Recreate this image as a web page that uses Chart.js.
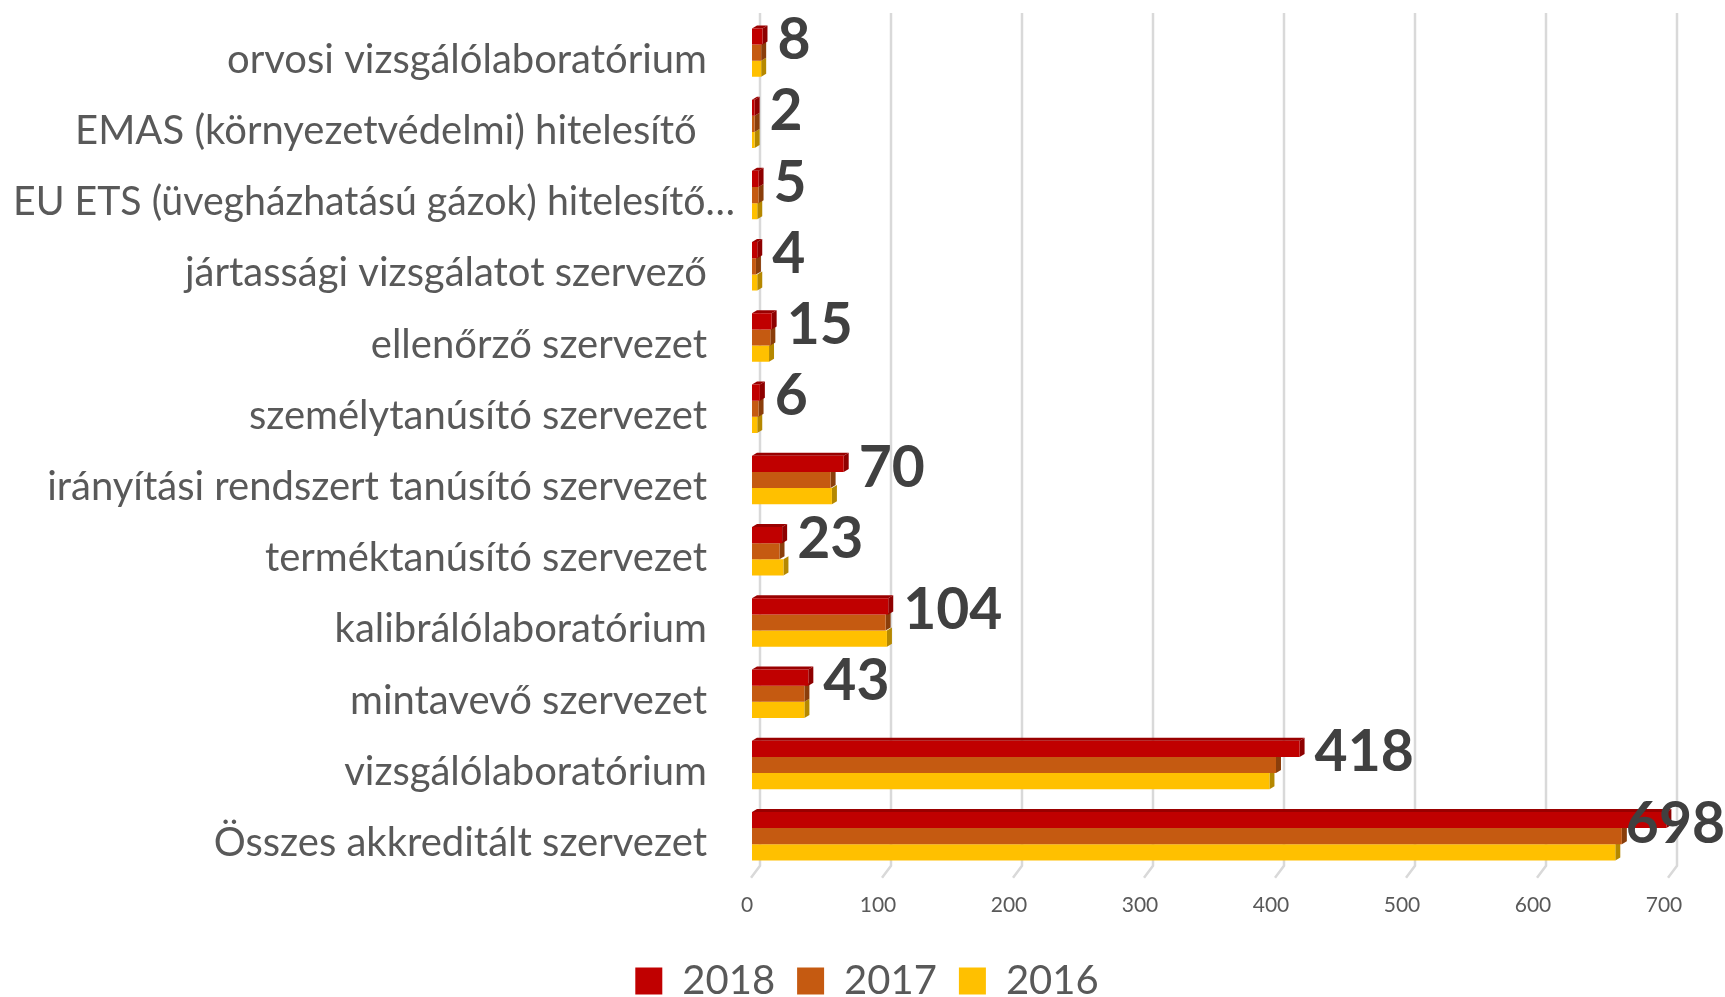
<!DOCTYPE html>
<html>
<head>
<meta charset="utf-8">
<script src="https://cdn.jsdelivr.net/npm/chart.js@4"></script>
<style>
  html, body { margin: 0; padding: 0; background: #fff; overflow: hidden; }
  canvas { display: block; }
</style>
</head>
<body>
<canvas id="chart" width="1725" height="997"></canvas>
<script>
// adatok
var categories = [
    'orvosi vizsgálólaboratórium',
    'EMAS (környezetvédelmi) hitelesítő ',
    'EU ETS (üvegházhatású gázok) hitelesítő…',
    'jártassági vizsgálatot szervező',
    'ellenőrző szervezet',
    'személytanúsító szervezet',
    'irányítási rendszert tanúsító szervezet',
    'terméktanúsító szervezet',
    'kalibrálólaboratórium',
    'mintavevő szervezet',
    'vizsgálólaboratórium',
    'Összes akkreditált szervezet'
];
var years = ['2018', '2017', '2016'];
var values2018 = [8, 2, 5, 4, 15, 6, 70, 23, 104, 43, 418, 698];
var values2017 = [7, 2, 5, 3, 14, 5, 60, 21, 102, 40, 400, 664];
var values2016 = [7, 2, 4, 4, 13, 4, 61, 24, 103, 40, 395, 659];
var xTicks = [0, 100, 200, 300, 400, 500, 600, 700];

var colors = ['#C00000', '#C55A11', '#FFC000'];
var sideColors = ['#8E0000', '#8A3E0B', '#B58800'];
var topColor = '#990000';
var DEPTH_X = 5;
var DEPTH_Y = 3;

Chart.defaults.font.family = 'Lato';

// 3D hatás: oldallap + tetőlap, rácsvonalak ferde véggel
var bar3d = {
    id: 'bar3d',
    beforeDatasetsDraw: function (chart) {
        var ctx = chart.ctx;
        var area = chart.chartArea;
        var xScale = chart.scales.x;
        ctx.save();
        ctx.strokeStyle = '#D9D9D9';
        ctx.lineWidth = 2.5;
        xTicks.forEach(function (v) {
            var x = xScale.getPixelForValue(v) + 8;
            ctx.beginPath();
            ctx.moveTo(x, area.top - 4);
            ctx.lineTo(x, area.bottom - 6);
            ctx.lineTo(x - 9, area.bottom + 6);
            ctx.stroke();
        });
        for (var d = chart.data.datasets.length - 1; d >= 0; d--) {
            var meta = chart.getDatasetMeta(d);
            meta.data.forEach(function (bar) {
                var p = bar.getProps(['x', 'y', 'base', 'height'], true);
                var top = p.y - p.height / 2;
                var bottom = p.y + p.height / 2;
                ctx.fillStyle = sideColors[d];
                ctx.beginPath();
                ctx.moveTo(p.x, top);
                ctx.lineTo(p.x + DEPTH_X, top - DEPTH_Y);
                ctx.lineTo(p.x + DEPTH_X, bottom - DEPTH_Y);
                ctx.lineTo(p.x, bottom);
                ctx.closePath();
                ctx.fill();
                if (d === 0) {
                    ctx.fillStyle = topColor;
                    ctx.beginPath();
                    ctx.moveTo(p.base, top);
                    ctx.lineTo(p.base + DEPTH_X, top - DEPTH_Y);
                    ctx.lineTo(p.x + DEPTH_X, top - DEPTH_Y);
                    ctx.lineTo(p.x, top);
                    ctx.closePath();
                    ctx.fill();
                }
            });
        }
        ctx.restore();
    },
    afterDatasetsDraw: function (chart) {
        var ctx = chart.ctx;
        var area = chart.chartArea;
        var yScale = chart.scales.y;
        ctx.save();
        // kategória feliratok (a levágott felirat kicsit jobbra lóg, mint az eredetin)
        ctx.font = '40px Lato';
        ctx.fillStyle = '#595959';
        ctx.textAlign = 'right';
        ctx.textBaseline = 'alphabetic';
        categories.forEach(function (label, i) {
            var y = yScale.getPixelForTick(i) + 20;
            var x = area.left - (label.slice(-1) === '…' ? 17 : 45);
            ctx.fillText(label, x, y, x - 13);
        });
        // 2018-as értékek
        ctx.font = 'bold 57px Lato';
        ctx.fillStyle = '#404040';
        ctx.textAlign = 'left';
        var first = chart.getDatasetMeta(0);
        var mid = chart.getDatasetMeta(1);
        first.data.forEach(function (bar, i) {
            var text = String(values2018[i]);
            var w = ctx.measureText(text).width;
            var x = Math.min(bar.x + DEPTH_X + 10, chart.width - w);
            var y = mid.data[i].y - 14 + 57 * 0.36;
            ctx.fillText(text, x, y);
        });
        ctx.restore();
    }
};

new Chart(document.getElementById('chart'), {
    type: 'bar',
    data: {
        labels: categories,
        datasets: [
            { label: years[0], data: values2018, backgroundColor: colors[0] },
            { label: years[1], data: values2017, backgroundColor: colors[1] },
            { label: years[2], data: values2016, backgroundColor: colors[2] }
        ]
    },
    options: {
        indexAxis: 'y',
        responsive: false,
        animation: false,
        borderWidth: 0,
        barPercentage: 1,
        categoryPercentage: 0.68,
        layout: { padding: { left: 65, right: 56, top: 17, bottom: -14 } },
        plugins: {
            legend: {
                position: 'bottom',
                labels: {
                    boxWidth: 27,
                    boxHeight: 27,
                    padding: 22,
                    color: '#595959',
                    font: { size: 40 }
                }
            },
            tooltip: { enabled: false }
        },
        scales: {
            x: {
                min: 0,
                max: 700,
                grid: { display: false, drawTicks: false },
                border: { display: false },
                ticks: { stepSize: 100, padding: 21, labelOffset: -5, color: '#595959', font: { size: 21 } }
            },
            y: {
                grid: { display: false, drawTicks: false },
                border: { display: false },
                ticks: { display: false },
                afterFit: function (scale) {
                    scale.width = 687;
                }
            }
        }
    },
    plugins: [bar3d]
});
</script>
</body>
</html>
